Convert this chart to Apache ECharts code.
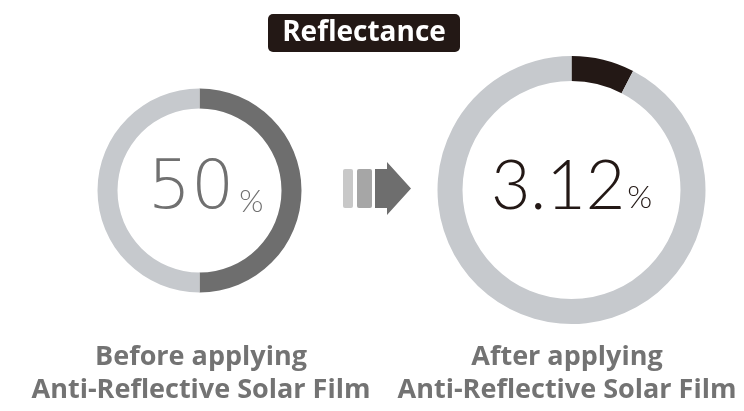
<!DOCTYPE html>
<html>
<head>
    <meta charset="utf-8">
    <title>Reflectance</title>
    <style type="text/css">
        html,
        body {
            height: 100%;
        }

        body {
            margin: 0;
            padding: 0;
            background: #ffffff;
        }

        #main {
            width: 744px;
            height: 411px;
        }
    </style>
</head>

<body>
    <div id="main"></div>
    <script src="https://cdn.jsdelivr.net/npm/echarts@6/dist/echarts.min.js"></script>
    <script type="text/javascript">
        // values shown in the centre of each ring
        var labelValues = ['50', '3.12'];
        // share of each ring drawn dark (the "after" arc is drawn larger than 3.12 in the picture)
        var arcValues = [50, 7.6];
        var captions = [
            ['Before applying', 'Anti-Reflective Solar Film'],
            ['After applying', 'Anti-Reflective Solar Film']
        ];
        var titleText = 'Reflectance';

        var myChart = echarts.init(document.getElementById('main'));

        var boldFont = '"Open Sans", Lato, sans-serif';

        function ring(i, center, radius, dark, numColor, font, weight, numSize, pctSize, pad, gap) {
            return {
                type: 'pie',
                center: center,
                radius: radius,
                startAngle: 90,
                clockwise: true,
                silent: true,
                animation: false,
                label: { show: false },
                labelLine: { show: false },
                data: [{
                    value: arcValues[i],
                    itemStyle: { color: dark },
                    label: {
                        show: true,
                        position: 'center',
                        formatter: '{n|' + labelValues[i] + '}{p|%}',
                        padding: pad,
                        rich: {
                            n: { fontFamily: font, fontWeight: weight, fontSize: numSize, color: numColor, lineHeight: numSize, verticalAlign: 'bottom' },
                            p: { fontFamily: 'Lato, sans-serif', fontWeight: 300, fontSize: pctSize, color: numColor, lineHeight: numSize, verticalAlign: 'bottom', padding: [0, 0, 7, gap] }
                        }
                    }
                }, {
                    value: 100 - arcValues[i],
                    itemStyle: { color: '#c6c9cd' }
                }]
            };
        }

        function caption(i, cx) {
            return {
                type: 'text',
                style: {
                    x: cx,
                    y: 341,
                    text: captions[i].join('\n'),
                    align: 'center',
                    fontFamily: boldFont,
                    fontWeight: 'bold',
                    fontSize: 27,
                    lineHeight: 33,
                    fill: '#737373'
                },
                silent: true
            };
        }

        myChart.setOption({
            animation: false,
            series: [
                ring(0, [199.5, 190.5], [82, 102], '#6e6e6e', '#707070', '"DejaVu Sans", Lato, sans-serif', 200, 68, 31, [0, 0, 0, 12], 5),
                ring(1, [571.5, 190], [109, 134], '#231815', '#231815', 'Lato, sans-serif', 300, 68, 32, [0, 0, 6, 0], 2)
            ],
            graphic: [
                {
                    type: 'rect',
                    shape: { x: 268, y: 14, width: 192, height: 38, r: 5 },
                    style: { fill: '#231815' },
                    silent: true
                },
                {
                    type: 'text',
                    style: {
                        x: 364, y: 33, text: titleText, align: 'center', verticalAlign: 'middle',
                        fontFamily: boldFont, fontWeight: 'bold', fontSize: 28, fill: '#ffffff'
                    },
                    silent: true
                },
                // arrow between the rings
                { type: 'rect', shape: { x: 343, y: 169, width: 10, height: 39, r: 2 }, style: { fill: '#c8c8c8' }, silent: true },
                { type: 'rect', shape: { x: 357, y: 169, width: 15, height: 39, r: 2 }, style: { fill: '#a6a6a6' }, silent: true },
                {
                    type: 'polygon',
                    shape: { points: [[375, 169], [387, 169], [387, 162], [411, 188.5], [387, 215], [387, 208], [375, 208]] },
                    style: { fill: '#6e6e6e' },
                    silent: true
                },
                caption(0, 201),
                caption(1, 567)
            ]
        });
    </script>
</body>
</html>
